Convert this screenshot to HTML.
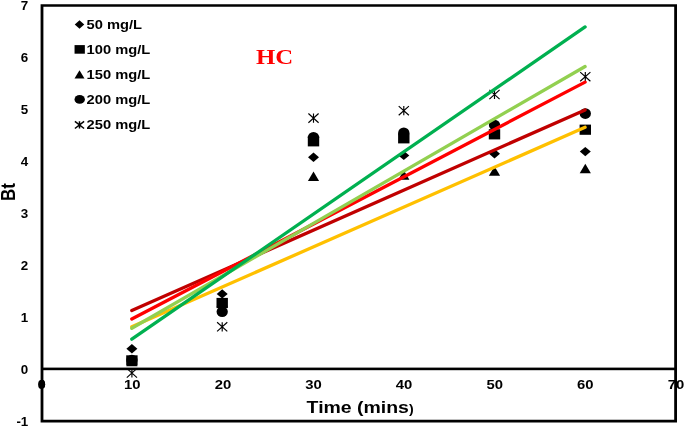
<!DOCTYPE html>
<html><head><meta charset="utf-8"><title>HC</title>
<style>html,body{margin:0;padding:0;background:#fff}svg{display:block;filter:blur(0.45px)}text{font-family:"Liberation Sans",Arial,sans-serif;font-weight:bold;fill:#000}.hc{font-family:"Liberation Serif","Times New Roman",serif;fill:#ff0000}</style></head><body>
<svg width="685" height="426" viewBox="0 0 685 426">
<rect width="685" height="426" fill="#fff"/>
<text transform="translate(28.30,425.90) scale(1.03,1)" font-size="13" text-anchor="end">-1</text>
<text transform="translate(28.30,373.90) scale(1.03,1)" font-size="13" text-anchor="end">0</text>
<text transform="translate(28.30,321.90) scale(1.03,1)" font-size="13" text-anchor="end">1</text>
<text transform="translate(28.30,269.90) scale(1.03,1)" font-size="13" text-anchor="end">2</text>
<text transform="translate(28.30,217.90) scale(1.03,1)" font-size="13" text-anchor="end">3</text>
<text transform="translate(28.30,165.90) scale(1.03,1)" font-size="13" text-anchor="end">4</text>
<text transform="translate(28.30,113.90) scale(1.03,1)" font-size="13" text-anchor="end">5</text>
<text transform="translate(28.30,61.90) scale(1.03,1)" font-size="13" text-anchor="end">6</text>
<text transform="translate(28.30,9.90) scale(1.03,1)" font-size="13" text-anchor="end">7</text>
<ellipse cx="42" cy="384.2" rx="3.1" ry="4.4"/>
<text transform="translate(41.70,389.00) scale(1.1,1)" font-size="13.5" text-anchor="middle">0</text>
<text transform="translate(132.30,389.00) scale(1.1,1)" font-size="13.5" text-anchor="middle">10</text>
<text transform="translate(222.90,389.00) scale(1.1,1)" font-size="13.5" text-anchor="middle">20</text>
<text transform="translate(313.50,389.00) scale(1.1,1)" font-size="13.5" text-anchor="middle">30</text>
<text transform="translate(404.10,389.00) scale(1.1,1)" font-size="13.5" text-anchor="middle">40</text>
<text transform="translate(494.70,389.00) scale(1.1,1)" font-size="13.5" text-anchor="middle">50</text>
<text transform="translate(585.30,389.00) scale(1.1,1)" font-size="13.5" text-anchor="middle">60</text>
<text transform="translate(675.90,389.00) scale(1.1,1)" font-size="13.5" text-anchor="middle">70</text>
<text transform="translate(15.1,192) rotate(-90) scale(1,1.17)" font-size="17" text-anchor="middle">Bt</text>
<text transform="translate(306.6,413) scale(1.18,1)" font-size="16.5" text-anchor="start">Time (mins<tspan font-size="12">)</tspan></text>
<text class="hc" transform="translate(274.60,64.30) scale(1.2,1)" font-size="20.7" text-anchor="middle">HC</text>
<g fill="#000">
<path d="M126.40,348.80L131.90,344.10L137.40,348.80L131.90,353.50Z"/>
<path d="M216.70,293.90L222.20,289.20L227.70,293.90L222.20,298.60Z"/>
<path d="M308.00,157.20L313.50,152.50L319.00,157.20L313.50,161.90Z"/>
<path d="M398.30,155.40L403.80,150.70L409.30,155.40L403.80,160.10Z"/>
<path d="M489.00,153.80L494.50,149.10L500.00,153.80L494.50,158.50Z"/>
<path d="M579.80,151.60L585.30,146.90L590.80,151.60L585.30,156.30Z"/>
<rect x="126.20" y="355.30" width="11.4" height="10.2"/>
<rect x="216.50" y="297.90" width="11.4" height="10.2"/>
<rect x="307.80" y="136.20" width="11.4" height="10.2"/>
<rect x="398.10" y="133.20" width="11.4" height="10.2"/>
<rect x="488.80" y="129.20" width="11.4" height="10.2"/>
<rect x="579.60" y="124.60" width="11.4" height="10.2"/>
<path d="M126.30,366.30L131.90,356.70L137.50,366.30Z"/>
<path d="M216.60,306.80L222.20,297.20L227.80,306.80Z"/>
<path d="M307.90,181.10L313.50,171.50L319.10,181.10Z"/>
<path d="M398.20,179.80L403.80,170.20L409.40,179.80Z"/>
<path d="M488.90,175.80L494.50,166.20L500.10,175.80Z"/>
<path d="M579.70,173.30L585.30,163.70L590.90,173.30Z"/>
<ellipse cx="131.90" cy="360.00" rx="5.65" ry="5.3"/>
<ellipse cx="222.20" cy="311.80" rx="5.65" ry="5.3"/>
<ellipse cx="313.50" cy="137.30" rx="5.65" ry="5.3"/>
<ellipse cx="403.80" cy="132.80" rx="5.65" ry="5.3"/>
<ellipse cx="494.50" cy="125.00" rx="5.65" ry="5.3"/>
<ellipse cx="585.30" cy="113.60" rx="5.65" ry="5.3"/>
<path d="M126.80,368.40L137.00,377.60M137.00,368.40L126.80,377.60M131.90,368.40L131.90,377.60" stroke="#000" stroke-width="1.15" fill="none"/>
<path d="M217.10,322.20L227.30,331.40M227.30,322.20L217.10,331.40M222.20,322.20L222.20,331.40" stroke="#000" stroke-width="1.15" fill="none"/>
<path d="M308.40,113.50L318.60,122.70M318.60,113.50L308.40,122.70M313.50,113.50L313.50,122.70" stroke="#000" stroke-width="1.15" fill="none"/>
<path d="M398.70,106.10L408.90,115.30M408.90,106.10L398.70,115.30M403.80,106.10L403.80,115.30" stroke="#000" stroke-width="1.15" fill="none"/>
<path d="M489.40,89.90L499.60,99.10M499.60,89.90L489.40,99.10M494.50,89.90L494.50,99.10" stroke="#000" stroke-width="1.15" fill="none"/>
<path d="M580.20,72.10L590.40,81.30M590.40,72.10L580.20,81.30M585.30,72.10L585.30,81.30" stroke="#000" stroke-width="1.15" fill="none"/>
</g>
<line x1="131.8" y1="326.8" x2="585.1" y2="127.3" stroke="#ffc000" stroke-width="3.3" stroke-linecap="round"/>
<line x1="131.8" y1="310.6" x2="585.1" y2="109.9" stroke="#c00000" stroke-width="3.3" stroke-linecap="round"/>
<line x1="131.8" y1="319.0" x2="585.1" y2="82.1" stroke="#ff0000" stroke-width="3.3" stroke-linecap="round"/>
<line x1="131.8" y1="328.3" x2="585.1" y2="66.5" stroke="#92d050" stroke-width="3.3" stroke-linecap="round"/>
<line x1="131.8" y1="339.2" x2="585.1" y2="26.9" stroke="#00b050" stroke-width="3.3" stroke-linecap="round"/>
<path fill="#000" fill-rule="evenodd" d="M40.6,4.25H677.0V422.4H40.6Z M43.4,6.75V419.8H674.2V6.75Z"/>
<rect x="42" y="367.6" width="633" height="2.6" fill="#000"/>
<g fill="#000">
<path d="M74.75,24.40L79.50,20.15L84.25,24.40L79.50,28.65Z"/>
<text transform="translate(86.60,28.70) scale(1.185,1)" font-size="12.4" text-anchor="start">50 mg/L</text>
<rect x="74.55" y="45.10" width="10.3" height="8.6"/>
<text transform="translate(86.60,53.70) scale(1.185,1)" font-size="12.4" text-anchor="start">100 mg/L</text>
<path d="M74.50,78.50L79.50,70.30L84.50,78.50Z"/>
<text transform="translate(86.60,78.70) scale(1.185,1)" font-size="12.4" text-anchor="start">150 mg/L</text>
<ellipse cx="79.70" cy="99.40" rx="5.2" ry="4.4"/>
<text transform="translate(86.60,103.70) scale(1.185,1)" font-size="12.4" text-anchor="start">200 mg/L</text>
<path d="M74.90,121.30L84.10,128.50M84.10,121.30L74.90,128.50M79.50,121.30L79.50,128.50" stroke="#000" stroke-width="1.5" fill="none"/>
<text transform="translate(86.60,128.70) scale(1.185,1)" font-size="12.4" text-anchor="start">250 mg/L</text>
</g>
</svg></body></html>
